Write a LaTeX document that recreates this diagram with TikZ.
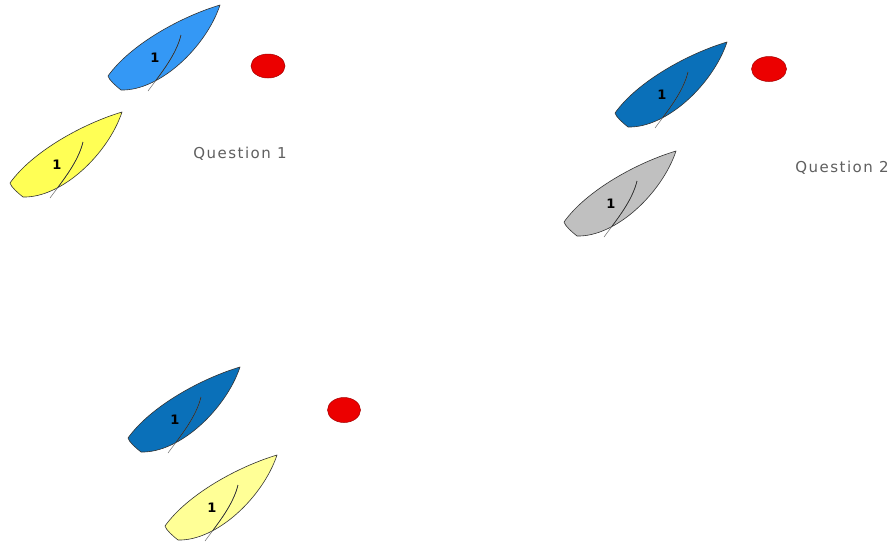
\documentclass[tikz,border=0pt]{standalone}
\usepackage{fontspec}
\usetikzlibrary{shapes.geometric}
\setmainfont{DejaVu Sans}
\newfontfamily\labelfont{DejaVu Sans}
\newfontfamily\captionfont[LetterSpace=10]{DejaVu Sans}
\begin{document}
\begin{tikzpicture}[x=1pt,y=-1pt]
  \definecolor{boatlight}{RGB}{52,152,245}
  \definecolor{boatdark}{RGB}{10,112,185}
  \definecolor{boatyellow}{RGB}{255,255,85}
  \definecolor{boatpale}{RGB}{255,255,150}
  \definecolor{boatgray}{RGB}{192,192,192}
  \definecolor{markred}{RGB}{236,0,0}
  \definecolor{textgray}{RGB}{95,95,95}
  % outline of a hull, bow at the origin, transom down to the left
  \def\hulloutline{(0,0) .. controls (-40,12) and (-90,40) .. (-112,71)
      .. controls (-111,75) and (-104,81) .. (-99,85)
      .. controls (-60,86) and (-14,42) .. (0,0) -- cycle}
  \def\sailline{(-72,86) .. controls (-58,67) and (-44,50) .. (-39,30)}
  \tikzset{
    hull/.style={draw=black!80, line width=0.6pt, line join=round},
    sheet/.style={line width=0.6pt},
    buoy/.style={ellipse, fill=markred, draw=markred!70!black, line width=0.5pt, inner sep=0pt},
    question/.style={font=\captionfont\fontsize{15}{18}\selectfont, text=textgray, inner sep=0pt},
    sailnum/.style={font=\labelfont\bfseries\fontsize{13}{14}\selectfont, inner sep=0pt},
    pics/sailboat/.style={code={
      \path[hull, fill=#1] \hulloutline;
      % sail, grey where it trails outside the hull
      \draw[sheet, gray] \sailline;
      \begin{scope}
        \clip \hulloutline;
        \draw[sheet, black!85] \sailline;
      \end{scope}
      \node[sailnum] at (-65,53) {1};
    }}
  }
  \useasboundingbox[fill=white] (0,0) rectangle (893,542);

  % Question 1
  \pic at (220,5)   {sailboat=boatlight};
  \pic at (122,112) {sailboat=boatyellow};
  \node[buoy, minimum width=34pt, minimum height=24pt] (mark1) at (268,66) {};
  \node[question] (q1) at (240,154) {Question 1};

  % Question 2
  \pic at (727,42)  {sailboat=boatdark};
  \pic at (676,151) {sailboat=boatgray};
  \node[buoy, minimum width=35pt, minimum height=25pt] (mark2) at (769,69) {};
  \node[question] (q2) at (842,168) {Question 2};

  % third situation
  \pic at (240,367) {sailboat=boatdark};
  \pic at (277,455) {sailboat=boatpale};
  \node[buoy, minimum width=33pt, minimum height=25pt] (mark3) at (344,410) {};
\end{tikzpicture}
\end{document}
